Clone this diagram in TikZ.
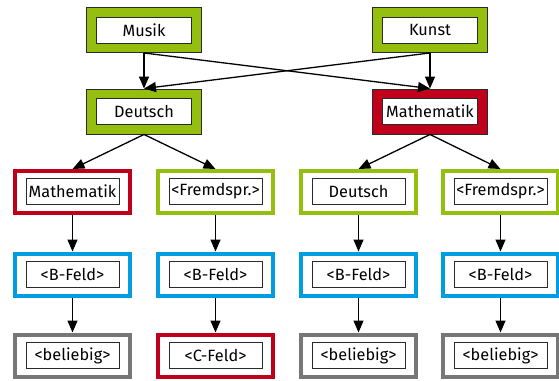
\documentclass[tikz,border=0pt]{standalone}
\usepackage{fontspec}
\setmainfont{Fira Sans}
\usetikzlibrary{arrows.meta}
\definecolor{gr}{HTML}{94BF0E}
\definecolor{rd}{HTML}{C0001A}
\definecolor{bl}{HTML}{009EE0}
\definecolor{gy}{HTML}{777777}
\definecolor{dk}{HTML}{2A2A2A}
\tikzset{
  fillbox/.style={draw=dk, line width=0.9pt, minimum width=115pt, minimum height=45pt, inner sep=0pt},
  ringbox/.style={draw=#1, fill=white, line width=4pt, minimum width=115pt, minimum height=42pt, inner sep=0pt},
  label box/.style={draw=dk, fill=white, line width=0.8pt, minimum width=#1, minimum height=26pt, inner sep=0pt, font=\fontsize{16.3}{18}\selectfont},
  conn/.style={-{Stealth[length=12pt,width=10pt,inset=0pt]}, line width=1.3pt, black},
}
\begin{document}
\begin{tikzpicture}[x=1pt,y=-1pt]
\useasboundingbox (0,0) rectangle (559,380);
% level 1
\node[fillbox, fill=gr] (musik) at (144,30) {};
\node[label box=95pt] (musikT) at (144,30) {Musik};
\node[fillbox, fill=gr] (kunst) at (430,30) {};
\node[label box=95pt] (kunstT) at (430,30) {Kunst};
% level 2
\node[fillbox, fill=gr] (deutsch) at (144,111.5) {};
\node[label box=95pt] (deutschT) at (144,111.5) {Deutsch};
\node[fillbox, fill=rd] (mathe) at (430,111.5) {};
\node[label box=95pt] (matheT) at (430,111.5) {Mathematik};
% level 3
\node[ringbox=rd] (a3) at (72.5,192) {};
\node[label box=93pt] at (72.5,191) {Mathematik};
\node[ringbox=gr] (b3) at (215.5,192) {};
\node[label box=93pt] at (215.5,191) {<Fremdspr.>};
\node[ringbox=gr] (c3) at (358.5,192) {};
\node[label box=93pt] at (358.5,191) {Deutsch};
\node[ringbox=gr] (d3) at (500.5,192) {};
\node[label box=93pt] at (500.5,191) {<Fremdspr.>};
% level 4
\node[ringbox=bl] (a4) at (72.5,274.5) {};
\node[label box=93pt] at (72.5,274) {<B-Feld>};
\node[ringbox=bl] (b4) at (215.5,274.5) {};
\node[label box=93pt] at (215.5,274) {<B-Feld>};
\node[ringbox=bl] (c4) at (358.5,274.5) {};
\node[label box=93pt] at (358.5,274) {<B-Feld>};
\node[ringbox=bl] (d4) at (500.5,274.5) {};
\node[label box=93pt] at (500.5,274) {<B-Feld>};
% level 5
\node[ringbox=gy] (a5) at (72.5,355.5) {};
\node[label box=93pt] at (72.5,355.5) {<beliebig>};
\node[ringbox=rd] (b5) at (215.5,355.5) {};
\node[label box=93pt] at (215.5,355.5) {<C-Feld>};
\node[ringbox=gy] (c5) at (358.5,355.5) {};
\node[label box=93pt] at (358.5,355.5) {<beliebig>};
\node[ringbox=gy] (d5) at (500.5,355.5) {};
\node[label box=93pt] at (500.5,355.5) {<beliebig>};
% connectors
\draw[conn] (musik.south) -- (deutsch.north);
\draw[conn] (musik.south) -- (mathe.north);
\draw[conn] (kunst.south) -- (mathe.north);
\draw[conn] (kunst.south) -- (deutsch.north);
\draw[conn] (deutsch.south) -- (a3.north);
\draw[conn] (deutsch.south) -- (b3.north);
\draw[conn] (mathe.south) -- (c3.north);
\draw[conn] (mathe.south) -- (d3.north);
\foreach \c in {a,b,c,d}{
  \draw[conn] (\c3.south) -- (\c4.north);
  \draw[conn] (\c4.south) -- (\c5.north);
}
\end{tikzpicture}
\end{document}
